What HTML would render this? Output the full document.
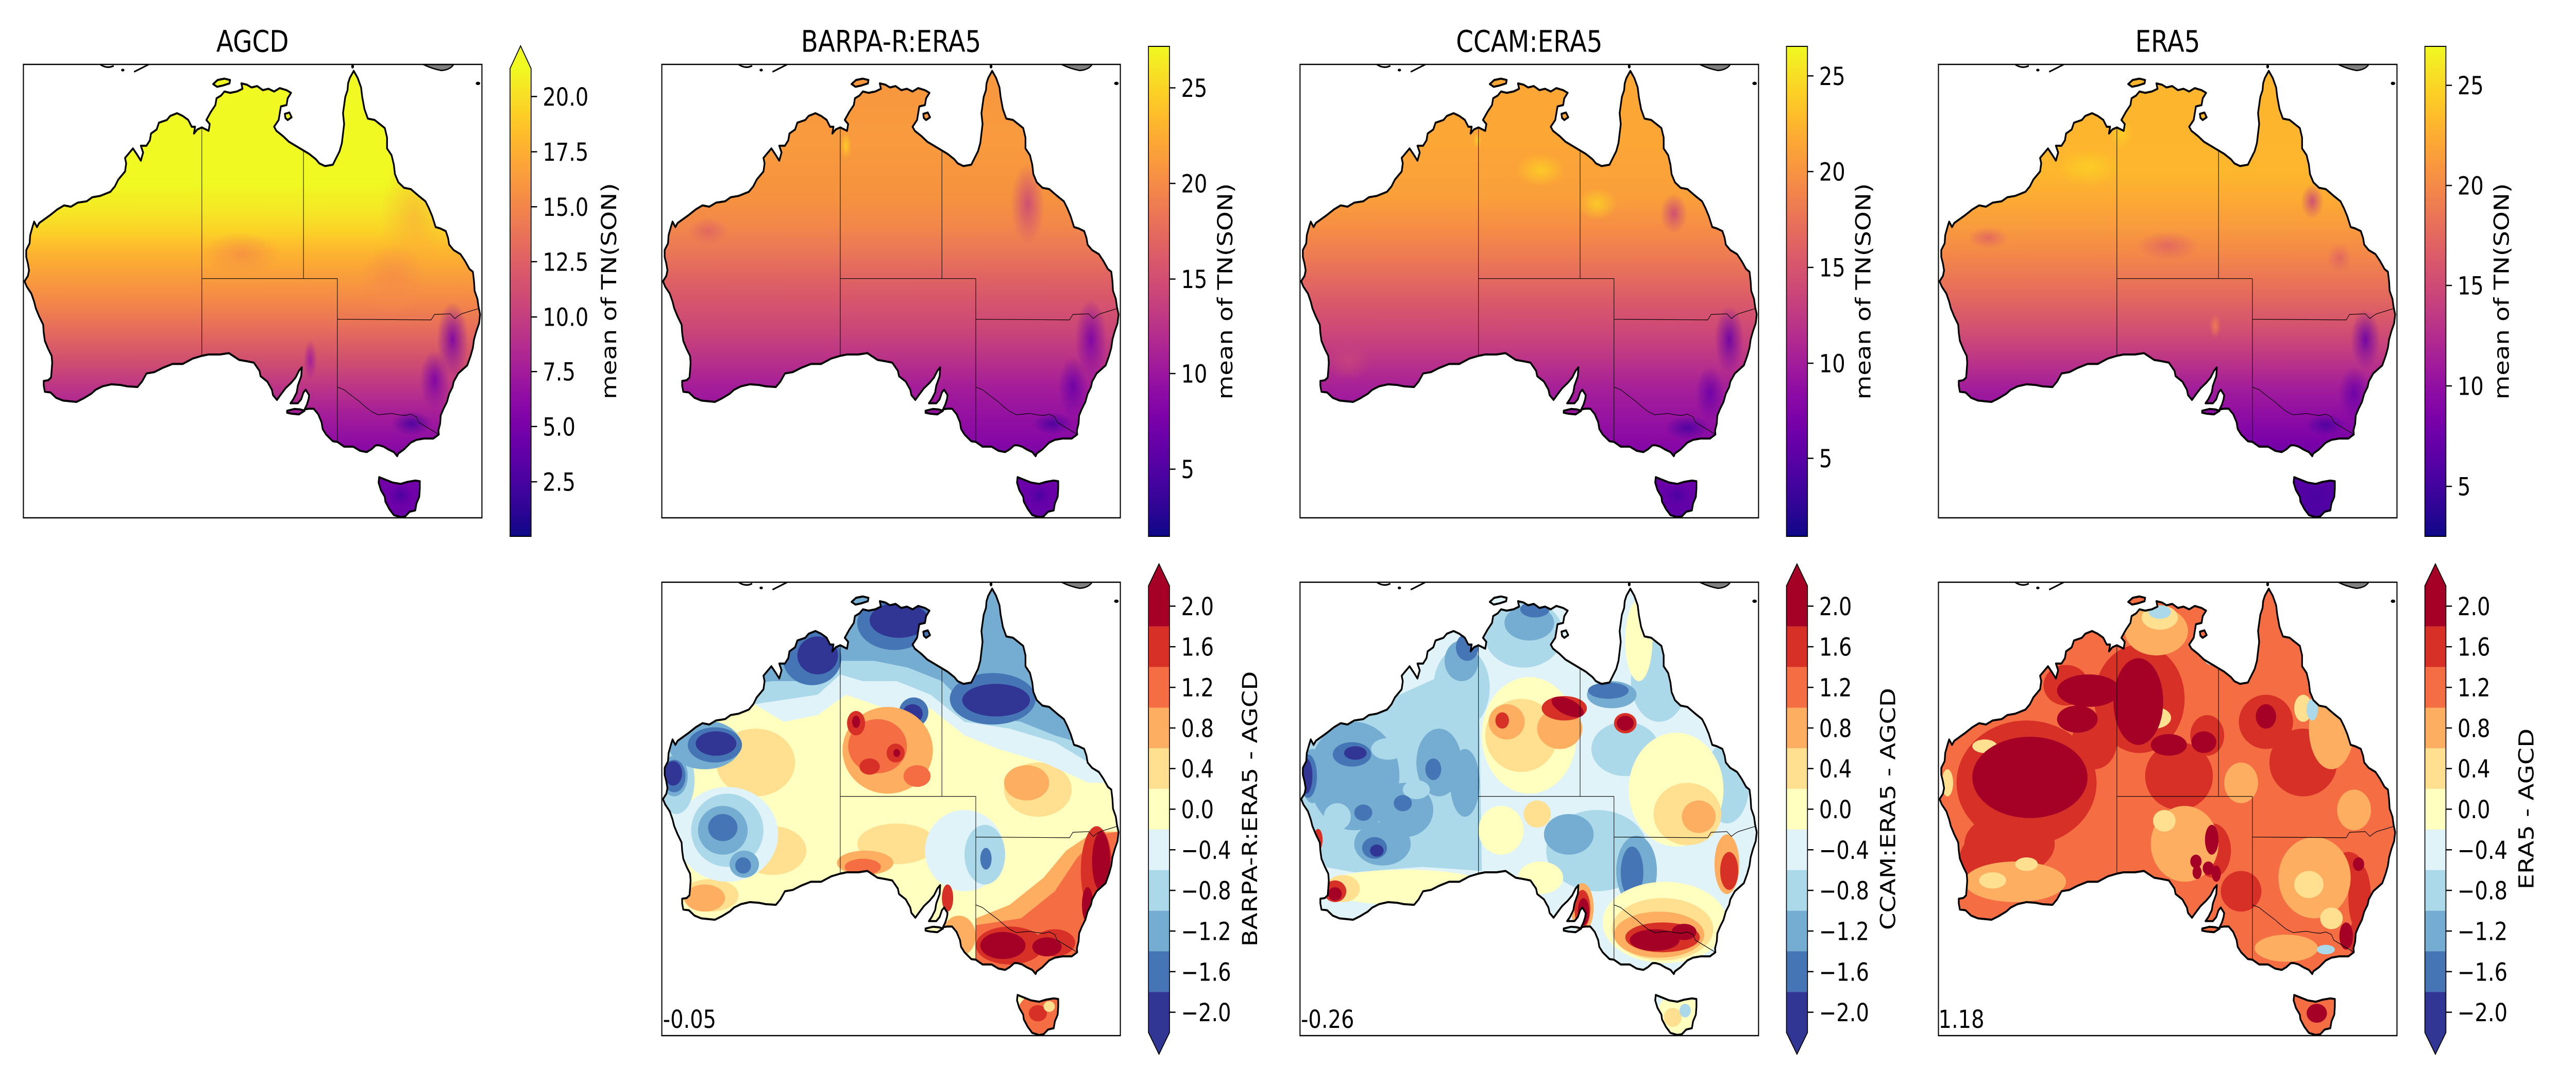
<!DOCTYPE html>
<html><head><meta charset="utf-8"><style>
html,body{margin:0;padding:0;background:#fff;width:100vw;height:100vh;overflow:hidden;}
svg.main{display:block;width:100vw;height:100vh;}
text{font-family:"DejaVu Sans","Liberation Sans",sans-serif;fill:#000;}
</style></head><body>
<svg class="main" viewBox="0 0 6000 2100" preserveAspectRatio="none" xmlns="http://www.w3.org/2000/svg">
<defs>
<path id="coastp" d="M142.45 10.68 L142.8 11.2 L143.1 11.9 L143.2 12.6 L143.4 13.5 L143.7 14.2 L144.3 14.3 L144.6 14.5 L145.2 14.9 L145.4 15.6 L145.4 16.4 L145.8 16.9 L146 17.6 L146.1 18.3 L146.4 18.9 L146.9 19.3 L147.5 19.4 L148.2 19.9 L148.8 20.3 L149.1 20.8 L149.4 21.4 L149.7 22.2 L150.1 22.3 L150.6 22.5 L150.8 23 L150.9 23.5 L151.3 23.9 L151.9 24.2 L152.3 24.7 L152.7 25.3 L153 25.5 L153.1 26.2 L153.15 26.9 L153.4 27.5 L153.5 28.1 L153.64 28.64 L153.55 29.3 L153.3 29.9 L153.1 30.5 L153 31.1 L152.8 31.7 L152.5 32.4 L152.1 32.7 L151.7 33 L151.3 33.6 L151.2 34 L150.9 34.5 L150.7 35.1 L150.4 35.6 L150.15 36.1 L150.1 36.7 L149.95 37.2 L149.98 37.5 L149.5 37.8 L148.7 37.8 L148 37.9 L147.5 38.1 L146.9 38.6 L146.4 38.9 L146.3 39.1 L146 38.8 L145.5 38.6 L145.1 38.4 L144.7 38.3 L144.4 38.3 L144 38.6 L143.6 38.8 L143 38.7 L142.4 38.4 L141.6 38.4 L141 38.05 L140.6 38 L140 37.5 L139.7 37.1 L139.6 36.6 L139.3 36 L138.9 35.6 L138.5 35.6 L138.1 35.65 L138.3 35.3 L138.45 34.9 L138.5 34.6 L138.2 34.2 L138 34.4 L137.8 34.9 L137.5 35.2 L136.85 35.2 L137.1 34.9 L137.4 34.4 L137.5 33.9 L137.8 33.2 L137.85 32.55 L137.6 32.8 L137.3 33.3 L136.9 33.7 L136.4 34.1 L135.95 34.6 L135.65 34.95 L135.3 34.6 L135.2 34.2 L134.8 33.6 L134.2 33.2 L134.1 32.8 L133.6 32.2 L133 32.1 L132.3 32 L131.4 31.5 L130.6 31.6 L129.6 31.6 L129 31.7 L128.2 31.9 L127.3 32.3 L126.4 32.3 L125.5 32.6 L124.8 32.9 L124.1 33 L123.7 33.6 L123.3 34 L122.4 33.95 L121.8 33.85 L121 33.8 L120.2 33.95 L119.6 34.2 L119.2 34.5 L118.5 34.85 L117.9 35.1 L117.3 35.05 L116.7 35 L116.1 34.8 L115.6 34.4 L115.1 34.35 L115 33.9 L115 33.55 L115.4 33.5 L115.65 33.3 L115.7 32.8 L115.75 32.2 L115.7 31.7 L115.4 31.2 L115.1 30.6 L115 30 L114.95 29.4 L114.6 28.8 L114.3 28.2 L114.15 27.7 L113.9 27.1 L113.5 26.6 L113.3 26.2 L113.6 25.8 L113.7 25.4 L113.6 24.9 L113.45 24.4 L113.45 23.9 L113.75 23.4 L113.8 22.8 L114 22.2 L114.15 21.8 L114.4 22.2 L114.6 21.9 L115.1 21.6 L115.6 21.3 L116.2 20.9 L116.8 20.6 L117.4 20.7 L118 20.4 L118.8 20.3 L119.3 20 L120 19.9 L120.9 19.6 L121.3 19.2 L121.6 18.7 L122.2 18.1 L122.3 17.5 L122.2 17.1 L122.5 16.8 L122.9 16.4 L123.3 16.9 L123.6 17.3 L123.8 16.7 L123.6 16.2 L124.1 16.2 L124.4 15.8 L124.5 15.3 L125 15 L125.2 14.5 L125.9 14.3 L126.2 14 L126.8 13.8 L127.3 14 L127.8 14.3 L128.1 14.8 L128.4 14.8 L128.3 15.3 L128.6 15 L129 14.85 L129.6 15.1 L129.7 14.6 L129.4 14.3 L129.8 13.7 L130.2 13.2 L130.3 12.7 L130.7 12.5 L131 12.2 L131.5 12.3 L132.1 12.2 L132.6 12 L132.5 11.6 L133 11.7 L133.4 11.9 L133.9 11.8 L134.4 12.1 L134.9 12 L135.4 12.2 L135.9 11.95 L136.5 12.1 L136.9 12.3 L136.6 12.7 L136.5 13.2 L136 13.3 L135.9 13.8 L135.8 14.3 L135.4 14.8 L135.6 15.1 L136.2 15.5 L136.7 15.9 L137.3 16.2 L137.9 16.5 L138.5 16.8 L139.1 17.2 L139.4 17.5 L139.9 17.7 L140.6 17.6 L140.9 17.1 L141.2 16.6 L141.4 16 L141.5 15.3 L141.6 14.6 L141.5 13.8 L141.6 13.2 L141.7 12.6 L141.9 12.1 L141.95 11.6 L142.1 11.2 L142.3 10.9 Z
M144.7 40.65 L145.3 40.85 L145.9 41.05 L146.6 41.15 L147.2 41 L147.9 40.9 L148.3 40.95 L148.3 41.5 L148.25 42.1 L148 42.6 L147.9 43.1 L147.4 43.2 L147 43.55 L146.6 43.6 L146 43.45 L145.6 43 L145.25 42.45 L145.2 42.1 L144.85 41.6 L144.65 41.05 Z
M136.55 35.75 L137.2 35.62 L137.7 35.65 L138.1 35.75 L137.6 36.02 L136.95 35.97 L136.55 35.9 Z
M130 11.65 L130.4 11.35 L131 11.25 L131.5 11.35 L131.45 11.6 L130.9 11.75 L130.35 11.85 Z
M136.35 13.85 L136.75 13.75 L136.95 14.1 L136.6 14.3 L136.4 14.15 Z"/>
<clipPath id="land" clipPathUnits="userSpaceOnUse"><use href="#coastp"/></clipPath>
<path id="bord" d="M129 14.85 L129 31.7 M129 26 L141 26 M138 16.6 L138 26 M141 26 L141 38.05 M141 29 L149.3 29.05 L149.6 28.65 L151 28.6 L151.4 28.95 L151.7 28.75 L152 28.6 L153.55 28.2 M141 34 L141.6 34.2 L142.2 34.6 L142.6 34.85 L143 35.1 L143.4 35.4 L144 35.8 L144.6 36.05 L145.2 36 L145.8 35.95 L146.4 36.05 L147 36.1 L147.5 36 L148 36.2 L148.2 36.6 L149.98 37.5"/>
<g id="isl">
<path d="M120 10.2 Q120.6 10.55 121.2 10.3" fill="none" stroke="#000" stroke-width="0.12"/>
<ellipse cx="122" cy="10.62" rx="0.15" ry="0.1" fill="#000"/>
<path d="M123 10.75 Q123.6 10.5 124.3 10.2" fill="none" stroke="#000" stroke-width="0.12"/>
<ellipse cx="142.35" cy="10.35" rx="0.12" ry="0.15" fill="#000"/>
<path d="M148.6 10.2 L151.3 10.2 Q151 10.6 150.2 10.65 Q149.3 10.5 148.6 10.2 Z" fill="#808080" stroke="#000" stroke-width="0.1"/>
<ellipse cx="153.45" cy="11.6" rx="0.2" ry="0.12" fill="#000"/>
</g>
<linearGradient id="pl" x1="0" y1="1" x2="0" y2="0">
<stop offset="0" stop-color="#0d0887"/><stop offset=".05" stop-color="#2a0593"/><stop offset=".1" stop-color="#41049d"/><stop offset=".15" stop-color="#5601a4"/><stop offset=".2" stop-color="#6a00a8"/><stop offset=".25" stop-color="#7e03a8"/><stop offset=".3" stop-color="#8f0da4"/><stop offset=".35" stop-color="#a11b9b"/><stop offset=".4" stop-color="#b12a90"/><stop offset=".45" stop-color="#bf3984"/><stop offset=".5" stop-color="#cc4778"/><stop offset=".55" stop-color="#d6556d"/><stop offset=".6" stop-color="#e16462"/><stop offset=".65" stop-color="#ea7457"/><stop offset=".7" stop-color="#f2844b"/><stop offset=".75" stop-color="#f89540"/><stop offset=".8" stop-color="#fca636"/><stop offset=".85" stop-color="#feb92c"/><stop offset=".9" stop-color="#fcce25"/><stop offset=".95" stop-color="#f7e225"/><stop offset="1" stop-color="#f0f921"/>
</linearGradient>
<linearGradient id="la" gradientUnits="userSpaceOnUse" x1="0" y1="10" x2="0" y2="44">
<stop offset="0" stop-color="#f0f921"/><stop offset=".265" stop-color="#f0f921"/><stop offset=".324" stop-color="#f5e726"/><stop offset=".368" stop-color="#fbd227"/><stop offset=".412" stop-color="#fdb52e"/><stop offset=".471" stop-color="#f99b3d"/><stop offset=".529" stop-color="#f2844b"/><stop offset=".588" stop-color="#e4695e"/><stop offset=".647" stop-color="#d0506f"/><stop offset=".706" stop-color="#bc3587"/><stop offset=".765" stop-color="#a41d99"/><stop offset=".824" stop-color="#8e0ca4"/><stop offset=".912" stop-color="#7201a8"/><stop offset="1" stop-color="#6a00a8"/>
</linearGradient>
<linearGradient id="lb" gradientUnits="userSpaceOnUse" x1="0" y1="10" x2="0" y2="44">
<stop offset="0" stop-color="#f7973f"/><stop offset=".176" stop-color="#f89a3d"/><stop offset=".294" stop-color="#f6923f"/><stop offset=".353" stop-color="#f2884a"/><stop offset=".412" stop-color="#ea7756"/><stop offset=".471" stop-color="#df6263"/><stop offset=".529" stop-color="#d5536e"/><stop offset=".588" stop-color="#c84479"/><stop offset=".647" stop-color="#b83189"/><stop offset=".706" stop-color="#a41d99"/><stop offset=".765" stop-color="#9511a1"/><stop offset=".824" stop-color="#8507a6"/><stop offset=".912" stop-color="#6c00a8"/><stop offset="1" stop-color="#6300a7"/>
</linearGradient>
<linearGradient id="lc" gradientUnits="userSpaceOnUse" x1="0" y1="10" x2="0" y2="44">
<stop offset="0" stop-color="#fca636"/><stop offset=".176" stop-color="#fca636"/><stop offset=".294" stop-color="#fa9f3a"/><stop offset=".353" stop-color="#f68f44"/><stop offset=".412" stop-color="#ef7e50"/><stop offset=".471" stop-color="#e46a5f"/><stop offset=".529" stop-color="#d8576b"/><stop offset=".588" stop-color="#cc4778"/><stop offset=".647" stop-color="#bb3488"/><stop offset=".706" stop-color="#a62098"/><stop offset=".765" stop-color="#9814a0"/><stop offset=".824" stop-color="#8a09a5"/><stop offset=".912" stop-color="#6a00a8"/><stop offset="1" stop-color="#5c01a6"/>
</linearGradient>
<linearGradient id="le" gradientUnits="userSpaceOnUse" x1="0" y1="10" x2="0" y2="44">
<stop offset="0" stop-color="#fdb52e"/><stop offset=".176" stop-color="#fdb52e"/><stop offset=".235" stop-color="#fdb72c"/><stop offset=".294" stop-color="#fcab33"/><stop offset=".353" stop-color="#f99c3d"/><stop offset=".412" stop-color="#f48a47"/><stop offset=".471" stop-color="#eb7655"/><stop offset=".529" stop-color="#df6263"/><stop offset=".588" stop-color="#d04d73"/><stop offset=".647" stop-color="#bc3587"/><stop offset=".706" stop-color="#a31e9a"/><stop offset=".765" stop-color="#8f0da4"/><stop offset=".824" stop-color="#7a02a8"/><stop offset=".912" stop-color="#5601a4"/><stop offset="1" stop-color="#4c02a1"/>
</linearGradient>
<radialGradient id="r_y"><stop offset="0" stop-color="#fcce25" stop-opacity=".9"/><stop offset="1" stop-color="#fcce25" stop-opacity="0"/></radialGradient>
<radialGradient id="r_o"><stop offset="0" stop-color="#f9a83a" stop-opacity=".6"/><stop offset="1" stop-color="#f9a83a" stop-opacity="0"/></radialGradient>
<radialGradient id="r_s"><stop offset="0" stop-color="#e06363" stop-opacity=".85"/><stop offset="1" stop-color="#e06363" stop-opacity="0"/></radialGradient>
<radialGradient id="r_p"><stop offset="0" stop-color="#c8447b" stop-opacity=".85"/><stop offset="1" stop-color="#c8447b" stop-opacity="0"/></radialGradient>
<radialGradient id="r_m"><stop offset="0" stop-color="#9c179e" stop-opacity=".85"/><stop offset="1" stop-color="#9c179e" stop-opacity="0"/></radialGradient>
<radialGradient id="r_v"><stop offset="0" stop-color="#7a02a8" stop-opacity=".9"/><stop offset="1" stop-color="#7a02a8" stop-opacity="0"/></radialGradient>
<radialGradient id="r_u"><stop offset="0" stop-color="#6a00a8" stop-opacity=".9"/><stop offset="1" stop-color="#6a00a8" stop-opacity="0"/></radialGradient>
<radialGradient id="r_d"><stop offset="0" stop-color="#4a02a0" stop-opacity=".9"/><stop offset="1" stop-color="#4a02a0" stop-opacity="0"/></radialGradient>
<radialGradient id="r_a"><stop offset="0" stop-color="#f48a47" stop-opacity=".75"/><stop offset="1" stop-color="#f48a47" stop-opacity="0"/></radialGradient>
</defs>

<text x="588.25" y="100.5" font-size="58" text-anchor="middle">AGCD</text>
<text x="2075.5" y="100.5" font-size="58" text-anchor="middle">BARPA-R:ERA5</text>
<text x="3562" y="100.5" font-size="58" text-anchor="middle">CCAM:ERA5</text>
<text x="5049" y="100.5" font-size="58" text-anchor="middle">ERA5</text>

<svg x="54.5" y="125" width="1068" height="880" viewBox="113.2 10.2 40.6 33.45" preserveAspectRatio="none" overflow="hidden">
<g clip-path="url(#land)">
<rect x="112" y="9" width="43" height="36" fill="url(#la)"/>
<ellipse cx="147.8" cy="21.5" rx="3" ry="5" fill="url(#r_o)"/>
<ellipse cx="146" cy="26" rx="3" ry="2.5" fill="url(#r_a)"/>
<ellipse cx="132.5" cy="24.2" rx="3.5" ry="1.6" fill="url(#r_a)"/>
<ellipse cx="151.2" cy="30.5" rx="1.4" ry="2.8" fill="url(#r_v)"/>
<ellipse cx="149.6" cy="33.5" rx="1.3" ry="2.2" fill="url(#r_v)"/>
<ellipse cx="147.6" cy="36.7" rx="1.8" ry="0.9" fill="url(#r_d)"/>
<ellipse cx="138.6" cy="32" rx="0.6" ry="1.5" fill="url(#r_m)"/>
<ellipse cx="146.6" cy="42" rx="1" ry="0.8" fill="url(#r_d)"/>
</g>
<use href="#coastp" fill="none" stroke="#000" stroke-width="0.15" stroke-linejoin="round"/>
<use href="#bord" fill="none" stroke="#000" stroke-width="0.045"/>
<use href="#isl"/>
</svg>
<rect x="54.5" y="125" width="1068" height="880" fill="none" stroke="#000" stroke-width="2.5"/>

<svg x="1541.5" y="125" width="1068" height="880" viewBox="113.2 10.2 40.6 33.45" preserveAspectRatio="none" overflow="hidden">
<g clip-path="url(#land)">
<rect x="112" y="9" width="43" height="36" fill="url(#lb)"/>
<ellipse cx="117.3" cy="22.5" rx="1.8" ry="1" fill="url(#r_s)"/>
<ellipse cx="145.6" cy="20.5" rx="1.5" ry="3" fill="url(#r_p)"/>
<ellipse cx="151.2" cy="30.5" rx="1.4" ry="3" fill="url(#r_v)"/>
<ellipse cx="149.6" cy="34" rx="1.3" ry="2.2" fill="url(#r_u)"/>
<ellipse cx="147.8" cy="36.7" rx="1.8" ry="0.8" fill="url(#r_d)"/>
<ellipse cx="146.6" cy="42" rx="1" ry="0.8" fill="url(#r_d)"/>
<ellipse cx="129.5" cy="16.2" rx="0.5" ry="1" fill="url(#r_y)"/>
</g>
<use href="#coastp" fill="none" stroke="#000" stroke-width="0.15" stroke-linejoin="round"/>
<use href="#bord" fill="none" stroke="#000" stroke-width="0.045"/>
<use href="#isl"/>
</svg>
<rect x="1541.5" y="125" width="1068" height="880" fill="none" stroke="#000" stroke-width="2.5"/>

<svg x="3028" y="125" width="1068" height="880" viewBox="113.2 10.2 40.6 33.45" preserveAspectRatio="none" overflow="hidden">
<g clip-path="url(#land)">
<rect x="112" y="9" width="43" height="36" fill="url(#lc)"/>
<ellipse cx="134.5" cy="18" rx="2.2" ry="1.2" fill="url(#r_y)"/>
<ellipse cx="139.5" cy="20.5" rx="1.8" ry="1.2" fill="url(#r_y)"/>
<ellipse cx="128.9" cy="15.8" rx="0.4" ry="0.6" fill="url(#r_y)"/>
<ellipse cx="146.3" cy="21.2" rx="1.2" ry="1.5" fill="url(#r_p)"/>
<ellipse cx="151.2" cy="30.5" rx="1.3" ry="2.5" fill="url(#r_u)"/>
<ellipse cx="149.5" cy="34.5" rx="1.3" ry="2" fill="url(#r_u)"/>
<ellipse cx="147.5" cy="37" rx="2" ry="0.9" fill="url(#r_d)"/>
<ellipse cx="146.6" cy="42" rx="1" ry="0.8" fill="url(#r_d)"/>
<ellipse cx="117.5" cy="32" rx="2" ry="1.5" fill="url(#r_p)"/>
</g>
<use href="#coastp" fill="none" stroke="#000" stroke-width="0.15" stroke-linejoin="round"/>
<use href="#bord" fill="none" stroke="#000" stroke-width="0.045"/>
<use href="#isl"/>
</svg>
<rect x="3028" y="125" width="1068" height="880" fill="none" stroke="#000" stroke-width="2.5"/>

<svg x="4515" y="125" width="1068" height="880" viewBox="113.2 10.2 40.6 33.45" preserveAspectRatio="none" overflow="hidden">
<g clip-path="url(#land)">
<rect x="112" y="9" width="43" height="36" fill="url(#le)"/>
<ellipse cx="126.5" cy="17.8" rx="2.8" ry="1.4" fill="url(#r_y)"/>
<ellipse cx="129.4" cy="15.3" rx="1" ry="1.2" fill="url(#r_y)"/>
<ellipse cx="133.5" cy="23.6" rx="2.8" ry="1.1" fill="url(#r_s)"/>
<ellipse cx="146.3" cy="20.3" rx="1" ry="1.3" fill="url(#r_p)"/>
<ellipse cx="148.7" cy="24.5" rx="1.1" ry="1.1" fill="url(#r_s)"/>
<ellipse cx="137.7" cy="29.5" rx="0.5" ry="0.9" fill="url(#r_a)"/>
<ellipse cx="151" cy="30.5" rx="1.3" ry="2.2" fill="url(#r_u)"/>
<ellipse cx="150" cy="34.5" rx="1.4" ry="2" fill="url(#r_u)"/>
<ellipse cx="147.5" cy="36.8" rx="1.8" ry="0.8" fill="url(#r_d)"/>
<ellipse cx="146.6" cy="42" rx="1" ry="0.8" fill="url(#r_d)"/>
<ellipse cx="117.6" cy="23" rx="1.8" ry="0.8" fill="url(#r_s)"/>
</g>
<use href="#coastp" fill="none" stroke="#000" stroke-width="0.15" stroke-linejoin="round"/>
<use href="#bord" fill="none" stroke="#000" stroke-width="0.045"/>
<use href="#isl"/>
</svg>
<rect x="4515" y="125" width="1068" height="880" fill="none" stroke="#000" stroke-width="2.5"/>

<svg x="1541.5" y="1130" width="1068" height="880" viewBox="113.2 10.2 40.6 33.45" preserveAspectRatio="none" overflow="hidden">
<g clip-path="url(#land)">
<rect x="112" y="9" width="43" height="36" fill="#ffffbf"/>
<g fill="#fee090">
<ellipse cx="121.5" cy="23.5" rx="3.5" ry="2.5"/><ellipse cx="123" cy="30" rx="3" ry="1.8"/><ellipse cx="117.5" cy="33.3" rx="2.5" ry="1.2"/><ellipse cx="146.5" cy="25.5" rx="3" ry="2"/><ellipse cx="134" cy="29.5" rx="3.5" ry="1.5"/>
</g>
<g fill="#e0f3f8">
<path d="M113 17 L120 18.5 L124 20.5 L127 20 L129.5 18.5 L133 19.5 L137 19.5 L140 21.5 L143 22.5 L147 23.5 L151 25 L154 25 L154 10 L113 10 Z"/>
<ellipse cx="119" cy="28.8" rx="4.5" ry="3.5"/><ellipse cx="140" cy="30" rx="3.5" ry="3"/><ellipse cx="113.8" cy="25.5" rx="1.5" ry="4"/>
</g>
<g fill="#abd9e9">
<path d="M113 19 L119 19.5 L123 19 L127 18.5 L129 17 L131 17.5 L134 17.5 L137 18.5 L140 20.5 L144 21 L148 22 L151 23.5 L154 24 L154 10 L113 10 Z"/>
<ellipse cx="119" cy="28.5" rx="3.2" ry="2.7"/><ellipse cx="141.8" cy="30.3" rx="1.8" ry="2.2"/><ellipse cx="114.5" cy="24.8" rx="1.6" ry="2.5"/>
</g>
<g fill="#74add1">
<path d="M118 18 L123 17.5 L127 17.5 L129 16 L132 16 L135 16.5 L138 17.5 L141 20 L145 20.5 L148 21.5 L150 22 L147 17 L146 13 L143 11 L140 10 L120 10 L118 13 Z"/>
<ellipse cx="118.6" cy="28.5" rx="2.2" ry="1.8"/><ellipse cx="120.5" cy="31" rx="1.3" ry="1"/><ellipse cx="117" cy="22.2" rx="3.2" ry="1.8"/><ellipse cx="114.3" cy="24.5" rx="1.2" ry="1.5"/>
</g>
<g fill="#4575b4">
<ellipse cx="133.8" cy="13.2" rx="3.3" ry="2"/><ellipse cx="126.5" cy="15.8" rx="2.6" ry="2"/><ellipse cx="142.5" cy="18.8" rx="3.8" ry="1.9"/><ellipse cx="117.9" cy="22.2" rx="2.4" ry="1.3"/><ellipse cx="114.3" cy="24.5" rx="1" ry="1.2"/><ellipse cx="135.5" cy="19.8" rx="1.3" ry="1.1"/><ellipse cx="118.6" cy="28.3" rx="1.3" ry="1"/><ellipse cx="141.9" cy="30.6" rx="0.5" ry="0.8"/><ellipse cx="120.4" cy="31.1" rx="0.7" ry="0.6"/>
</g>
<g fill="#313695">
<ellipse cx="134.2" cy="13" rx="2.6" ry="1.3"/><ellipse cx="127" cy="15.6" rx="1.8" ry="1.4"/><ellipse cx="142.8" cy="18.9" rx="3" ry="1.2"/><ellipse cx="118" cy="22.1" rx="1.8" ry="0.9"/><ellipse cx="114.2" cy="24.3" rx="0.8" ry="0.9"/><ellipse cx="135.4" cy="19.9" rx="0.9" ry="0.7"/>
</g>
<g fill="#fdae61">
<ellipse cx="133.2" cy="22.6" rx="4" ry="3.2"/><ellipse cx="117" cy="33.5" rx="1.8" ry="1"/><ellipse cx="131.2" cy="30.9" rx="2.5" ry="0.9"/>
<path d="M141 35 L144 34 L147 32 L149 30 L151.5 28.6 L153.8 28.6 L153.8 39 L141 39 Z"/>
<ellipse cx="145.5" cy="25" rx="2" ry="1.3"/><ellipse cx="139.5" cy="36.3" rx="1.5" ry="1.5"/>
</g>
<g fill="#f46d43">
<ellipse cx="132.3" cy="22.3" rx="2.6" ry="2"/><ellipse cx="131" cy="31.2" rx="1.6" ry="0.6"/>
<path d="M141 35.5 L145 35 L148 33 L150 30.5 L152 28.8 L153.8 28.6 L153.8 39 L141 39 Z"/>
<ellipse cx="135.8" cy="24.5" rx="1.2" ry="0.8"/><ellipse cx="146.7" cy="42" rx="2" ry="1.5"/>
</g>
<g fill="#d73027">
<ellipse cx="130.4" cy="20.6" rx="0.8" ry="0.9"/><ellipse cx="133.9" cy="22.8" rx="0.8" ry="0.7"/><ellipse cx="131.6" cy="23.8" rx="0.9" ry="0.6"/><ellipse cx="144" cy="37" rx="3" ry="1.4"/><ellipse cx="151.7" cy="31.5" rx="1.4" ry="3.3"/><ellipse cx="148" cy="36.8" rx="1.8" ry="1"/><ellipse cx="138.5" cy="33.5" rx="0.5" ry="1"/><ellipse cx="146.5" cy="42" rx="0.8" ry="0.6"/>
</g>
<g fill="#a50026">
<ellipse cx="143.4" cy="37" rx="2" ry="1"/><ellipse cx="147.3" cy="37.1" rx="1.3" ry="0.7"/><ellipse cx="152.1" cy="30.8" rx="0.8" ry="2.2"/><ellipse cx="150.9" cy="34" rx="0.5" ry="1.3"/><ellipse cx="130.4" cy="20.5" rx="0.35" ry="0.45"/><ellipse cx="134" cy="22.8" rx="0.3" ry="0.3"/>
</g>
<ellipse cx="147.5" cy="41.5" rx="0.5" ry="0.4" fill="#fee090"/>
</g>
<use href="#coastp" fill="none" stroke="#000" stroke-width="0.15" stroke-linejoin="round"/>
<use href="#bord" fill="none" stroke="#000" stroke-width="0.045"/>
<use href="#isl"/>
</svg>
<rect x="1541.5" y="1130" width="1068" height="880" fill="none" stroke="#000" stroke-width="2.5"/>

<svg x="3028" y="1130" width="1068" height="880" viewBox="113.2 10.2 40.6 33.45" preserveAspectRatio="none" overflow="hidden">
<g clip-path="url(#land)">
<rect x="112" y="9" width="43" height="36" fill="#e0f3f8"/>
<g fill="#abd9e9">
<path d="M113 18 L118 19 L122 18.5 L126 17 L129 16 L129.3 31.5 L124 31.2 L118 31.6 L114 31 L113 28 Z"/>
<ellipse cx="139.5" cy="30" rx="4.5" ry="3"/><ellipse cx="133" cy="14" rx="3.5" ry="2.5"/><ellipse cx="145" cy="17.5" rx="2.5" ry="3"/><ellipse cx="151" cy="25" rx="2" ry="3"/><ellipse cx="142" cy="22.5" rx="3" ry="2"/><ellipse cx="127.5" cy="18" rx="2.5" ry="3"/>
</g>
<g fill="#74add1">
<ellipse cx="118" cy="24.5" rx="4" ry="4"/><ellipse cx="122.5" cy="27" rx="2.5" ry="2"/><ellipse cx="125.5" cy="23.5" rx="2" ry="2.5"/><ellipse cx="120.5" cy="29.5" rx="2.5" ry="1.6"/><ellipse cx="127.8" cy="25" rx="1.3" ry="2.5"/><ellipse cx="133.5" cy="13.2" rx="2.2" ry="1.3"/><ellipse cx="143" cy="31.5" rx="1.8" ry="2.6"/><ellipse cx="137" cy="28.8" rx="2.2" ry="1.5"/><ellipse cx="140.8" cy="18.5" rx="2.2" ry="1"/><ellipse cx="127.5" cy="16" rx="1.5" ry="1.5"/><ellipse cx="114.3" cy="24.5" rx="1" ry="2"/>
</g>
<g fill="#abd9e9">
<ellipse cx="121" cy="22.5" rx="1.5" ry="0.8"/><ellipse cx="123.5" cy="25.5" rx="1.2" ry="0.7"/><ellipse cx="116.5" cy="27.5" rx="1.2" ry="1"/>
</g>
<g fill="#4575b4">
<ellipse cx="117.8" cy="22.9" rx="1.7" ry="0.9"/><ellipse cx="119.8" cy="29.8" rx="1.1" ry="0.8"/><ellipse cx="113.9" cy="24.5" rx="0.8" ry="1.6"/><ellipse cx="142.6" cy="31.6" rx="1" ry="1.9"/><ellipse cx="140.5" cy="18.2" rx="1.8" ry="0.6"/><ellipse cx="128" cy="15" rx="1" ry="1"/><ellipse cx="134" cy="12.2" rx="1.3" ry="0.6"/><ellipse cx="118.8" cy="27.2" rx="0.8" ry="0.6"/><ellipse cx="122.3" cy="26.5" rx="0.8" ry="0.6"/><ellipse cx="125" cy="24" rx="0.7" ry="0.8"/>
</g>
<g fill="#313695">
<ellipse cx="113.75" cy="24.5" rx="0.55" ry="1.3"/><ellipse cx="118.1" cy="22.8" rx="1" ry="0.5"/><ellipse cx="120" cy="30" rx="0.6" ry="0.45"/>
</g>
<g fill="#ffffbf">
<ellipse cx="122.5" cy="32.7" rx="7.5" ry="1.3"/><ellipse cx="133.5" cy="21.5" rx="4.2" ry="4.3"/><ellipse cx="146.5" cy="25.5" rx="4.2" ry="4.2"/><ellipse cx="145.5" cy="35.3" rx="5.5" ry="3"/><ellipse cx="143.2" cy="14.5" rx="1.2" ry="3"/><ellipse cx="134.5" cy="32" rx="2" ry="1.2"/><ellipse cx="131" cy="28.5" rx="2" ry="1.8"/><ellipse cx="146.7" cy="42" rx="1.8" ry="1.5"/>
</g>
<g fill="#fee090">
<ellipse cx="132.8" cy="21.5" rx="3.2" ry="2.7"/><ellipse cx="147.5" cy="27.3" rx="3" ry="2.3"/><ellipse cx="145.3" cy="35.8" rx="4.5" ry="2.3"/><ellipse cx="134.2" cy="27.3" rx="1.2" ry="1"/><ellipse cx="117" cy="32.8" rx="1.5" ry="1"/><ellipse cx="146.2" cy="42.3" rx="0.8" ry="0.7"/>
</g>
<g fill="#fdae61">
<ellipse cx="131.5" cy="20.5" rx="1.6" ry="1.3"/><ellipse cx="136.2" cy="21" rx="2" ry="1.5"/><ellipse cx="148.5" cy="27.5" rx="1.5" ry="1.2"/><ellipse cx="145" cy="36.2" rx="4" ry="1.7"/><ellipse cx="151" cy="31" rx="1.1" ry="2.2"/><ellipse cx="138.2" cy="34.2" rx="1" ry="1.8"/>
</g>
<g fill="#d73027">
<ellipse cx="131.1" cy="20.4" rx="0.6" ry="0.6"/><ellipse cx="136.6" cy="19.5" rx="2" ry="0.9"/><ellipse cx="142" cy="20.6" rx="1" ry="0.75"/><ellipse cx="138.2" cy="34.3" rx="0.7" ry="1.4"/><ellipse cx="116.3" cy="33" rx="1" ry="0.8"/><ellipse cx="114.8" cy="29.2" rx="0.4" ry="0.8"/><ellipse cx="145.3" cy="36.4" rx="3.3" ry="1.1"/><ellipse cx="151.2" cy="31.5" rx="0.8" ry="1.4"/>
</g>
<g fill="#a50026">
<ellipse cx="136.9" cy="19.4" rx="1.5" ry="0.6" transform="rotate(20 136.9 19.4)"/><ellipse cx="142" cy="20.6" rx="0.75" ry="0.55"/><ellipse cx="138.3" cy="34.5" rx="0.5" ry="1"/><ellipse cx="144.6" cy="36.6" rx="2.2" ry="0.8"/><ellipse cx="147.2" cy="36" rx="1.1" ry="0.6"/><ellipse cx="116.3" cy="33.2" rx="0.6" ry="0.5"/>
</g>
<ellipse cx="147.3" cy="41.8" rx="0.5" ry="0.5" fill="#abd9e9"/>
</g>
<use href="#coastp" fill="none" stroke="#000" stroke-width="0.15" stroke-linejoin="round"/>
<use href="#bord" fill="none" stroke="#000" stroke-width="0.045"/>
<use href="#isl"/>
</svg>
<rect x="3028" y="1130" width="1068" height="880" fill="none" stroke="#000" stroke-width="2.5"/>

<svg x="4515" y="1130" width="1068" height="880" viewBox="113.2 10.2 40.6 33.45" preserveAspectRatio="none" overflow="hidden">
<g clip-path="url(#land)">
<rect x="112" y="9" width="43" height="36" fill="#f46d43"/>
<g fill="#d73027">
<ellipse cx="121" cy="25" rx="6.2" ry="4.6"/><ellipse cx="131" cy="18.8" rx="4" ry="4"/><ellipse cx="142.2" cy="20.5" rx="2.4" ry="2"/><ellipse cx="137.5" cy="30" rx="1.6" ry="2"/><ellipse cx="149.5" cy="31.5" rx="1.4" ry="1.4"/><ellipse cx="124.5" cy="17.8" rx="2" ry="1.5"/><ellipse cx="150.5" cy="36.5" rx="1" ry="1.5"/>
<ellipse cx="119.5" cy="29.5" rx="4" ry="2.3"/><ellipse cx="134.5" cy="24.5" rx="3" ry="2.5"/><ellipse cx="145.5" cy="23.5" rx="3" ry="2.5"/><ellipse cx="140" cy="33" rx="1.8" ry="1.5"/><ellipse cx="150.5" cy="33.5" rx="1" ry="2.5"/><ellipse cx="137" cy="21.5" rx="1.5" ry="1.5"/><ellipse cx="127" cy="22" rx="2" ry="2"/><ellipse cx="116.5" cy="31" rx="1.5" ry="2"/>
</g>
<g fill="#fdae61">
<ellipse cx="135" cy="29.5" rx="3" ry="2.8"/><ellipse cx="146.5" cy="32" rx="3.2" ry="3"/><ellipse cx="148" cy="21" rx="2" ry="3"/><ellipse cx="132.5" cy="13.8" rx="2.8" ry="1.8"/><ellipse cx="120" cy="32.3" rx="4.5" ry="1.5"/><ellipse cx="144" cy="37.2" rx="2.8" ry="1"/><ellipse cx="140" cy="25" rx="1.5" ry="1.5"/><ellipse cx="150" cy="27" rx="1.5" ry="1.5"/>
</g>
<g fill="#fee090">
<ellipse cx="132.3" cy="20.2" rx="1.5" ry="0.8"/><ellipse cx="146" cy="32.5" rx="1.3" ry="1"/><ellipse cx="133.2" cy="27.8" rx="1" ry="0.8"/><ellipse cx="132.8" cy="12.8" rx="1.6" ry="0.9"/><ellipse cx="118" cy="32.2" rx="1.2" ry="0.6"/><ellipse cx="145.5" cy="19.5" rx="0.8" ry="1"/><ellipse cx="114" cy="25" rx="0.5" ry="1"/><ellipse cx="148" cy="35" rx="1" ry="0.8"/><ellipse cx="117.3" cy="22.3" rx="1.1" ry="0.5"/><ellipse cx="121" cy="31" rx="1" ry="0.5"/>
</g>
<g fill="#abd9e9">
<ellipse cx="132.8" cy="12.4" rx="1" ry="0.5"/><ellipse cx="137.3" cy="15.9" rx="0.5" ry="0.4"/><ellipse cx="146.3" cy="19.6" rx="0.5" ry="0.8"/><ellipse cx="147.5" cy="37.3" rx="0.8" ry="0.35"/>
</g>
<g fill="#a50026">
<ellipse cx="121.3" cy="24.6" rx="5.1" ry="3"/><ellipse cx="130.9" cy="19" rx="2.2" ry="3.2"/><ellipse cx="126.5" cy="18.2" rx="2.8" ry="1.2"/><ellipse cx="125.5" cy="20.3" rx="1.8" ry="1"/><ellipse cx="142.2" cy="20.1" rx="0.9" ry="0.9"/><ellipse cx="137.4" cy="29.2" rx="0.6" ry="1.1"/><ellipse cx="137.1" cy="31.3" rx="0.5" ry="0.5"/><ellipse cx="136" cy="30.8" rx="0.5" ry="0.5"/><ellipse cx="137.8" cy="31.7" rx="0.4" ry="0.6"/><ellipse cx="136.1" cy="31.6" rx="0.4" ry="0.5"/><ellipse cx="150.4" cy="31" rx="0.5" ry="0.5"/><ellipse cx="149.3" cy="36.3" rx="0.6" ry="1"/><ellipse cx="133.6" cy="22.2" rx="1.6" ry="0.8"/><ellipse cx="136.7" cy="22" rx="1.1" ry="0.8"/><ellipse cx="146.7" cy="42" rx="0.9" ry="0.7"/>
</g>
</g>
<use href="#coastp" fill="none" stroke="#000" stroke-width="0.15" stroke-linejoin="round"/>
<use href="#bord" fill="none" stroke="#000" stroke-width="0.045"/>
<use href="#isl"/>
</svg>
<rect x="4515" y="1130" width="1068" height="880" fill="none" stroke="#000" stroke-width="2.5"/>

<text x="1544" y="1995" font-size="48">-0.05</text>
<text x="3030" y="1995" font-size="48">-0.26</text>
<text x="4515" y="1995" font-size="48">1.18</text>

<rect x="1188" y="133" width="49" height="908" fill="url(#pl)"/>
<polygon points="1188,133 1237,133 1212.5,89" fill="#f0f921"/>
<path d="M1188 1041 L1188 133 L1212.5 89 L1237 133 L1237 1041 Z" fill="none" stroke="#000" stroke-width="2"/>
<g stroke="#000" stroke-width="2.5">
<line x1="1237" y1="187.3" x2="1251" y2="187.3"/><line x1="1237" y1="294.6" x2="1251" y2="294.6"/><line x1="1237" y1="401.3" x2="1251" y2="401.3"/><line x1="1237" y1="507.9" x2="1251" y2="507.9"/><line x1="1237" y1="615.2" x2="1251" y2="615.2"/><line x1="1237" y1="721.2" x2="1251" y2="721.2"/><line x1="1237" y1="827.8" x2="1251" y2="827.8"/><line x1="1237" y1="935.1" x2="1251" y2="935.1"/>
</g>
<g font-size="48">
<text x="1264" y="204.8">20.0</text><text x="1264" y="312.1">17.5</text><text x="1264" y="418.8">15.0</text><text x="1264" y="525.4">12.5</text><text x="1264" y="632.7">10.0</text><text x="1264" y="738.7">7.5</text><text x="1264" y="845.3">5.0</text><text x="1264" y="952.6">2.5</text>
</g>
<text transform="translate(1435,565) rotate(-90)" font-size="48" text-anchor="middle">mean of TN(SON)</text>

<rect x="2675" y="90" width="49" height="951" fill="url(#pl)" stroke="#000" stroke-width="2"/>
<g stroke="#000" stroke-width="2.5">
<line x1="2724" y1="170.5" x2="2738" y2="170.5"/><line x1="2724" y1="356" x2="2738" y2="356"/><line x1="2724" y1="541.6" x2="2738" y2="541.6"/><line x1="2724" y1="725" x2="2738" y2="725"/><line x1="2724" y1="910.6" x2="2738" y2="910.6"/>
</g>
<g font-size="48">
<text x="2751" y="188">25</text><text x="2751" y="373.5">20</text><text x="2751" y="559.1">15</text><text x="2751" y="742.5">10</text><text x="2751" y="928.1">5</text>
</g>
<text transform="translate(2870.5,565.5) rotate(-90)" font-size="48" text-anchor="middle">mean of TN(SON)</text>

<rect x="4161" y="90" width="49" height="951" fill="url(#pl)" stroke="#000" stroke-width="2"/>
<g stroke="#000" stroke-width="2.5">
<line x1="4210" y1="147.3" x2="4224" y2="147.3"/><line x1="4210" y1="333" x2="4224" y2="333"/><line x1="4210" y1="519" x2="4224" y2="519"/><line x1="4210" y1="705" x2="4224" y2="705"/><line x1="4210" y1="889.5" x2="4224" y2="889.5"/>
</g>
<g font-size="48">
<text x="4237" y="164.8">25</text><text x="4237" y="350.5">20</text><text x="4237" y="536.5">15</text><text x="4237" y="722.5">10</text><text x="4237" y="907">5</text>
</g>
<text transform="translate(4356.5,565.5) rotate(-90)" font-size="48" text-anchor="middle">mean of TN(SON)</text>

<rect x="5648" y="90" width="49" height="951" fill="url(#pl)" stroke="#000" stroke-width="2"/>
<g stroke="#000" stroke-width="2.5">
<line x1="5697" y1="165.6" x2="5711" y2="165.6"/><line x1="5697" y1="360" x2="5711" y2="360"/><line x1="5697" y1="554" x2="5711" y2="554"/><line x1="5697" y1="749" x2="5711" y2="749"/><line x1="5697" y1="944" x2="5711" y2="944"/>
</g>
<g font-size="48">
<text x="5724" y="183.1">25</text><text x="5724" y="377.5">20</text><text x="5724" y="571.5">15</text><text x="5724" y="766.5">10</text><text x="5724" y="961.5">5</text>
</g>
<text transform="translate(5843.5,565.5) rotate(-90)" font-size="48" text-anchor="middle">mean of TN(SON)</text>

<g transform="translate(2675,0)">
<rect x="0" y="1137" width="49" height="78.9" fill="#a50026"/>
<rect x="0" y="1215.8" width="49" height="78.9" fill="#d73027"/>
<rect x="0" y="1294.6" width="49" height="78.9" fill="#f46d43"/>
<rect x="0" y="1373.5" width="49" height="78.9" fill="#fdae61"/>
<rect x="0" y="1452.3" width="49" height="78.9" fill="#fee090"/>
<rect x="0" y="1531.1" width="49" height="78.9" fill="#ffffbf"/>
<rect x="0" y="1609.9" width="49" height="78.9" fill="#e0f3f8"/>
<rect x="0" y="1688.7" width="49" height="78.9" fill="#abd9e9"/>
<rect x="0" y="1767.6" width="49" height="78.9" fill="#74add1"/>
<rect x="0" y="1846.4" width="49" height="78.9" fill="#4575b4"/>
<rect x="0" y="1925.2" width="49" height="78.8" fill="#313695"/>
<polygon points="0,1137 49,1137 24.5,1094.5" fill="#a50026"/>
<polygon points="0,2004 49,2004 24.5,2046" fill="#313695"/>
<path d="M0 1137 L24.5 1094.5 L49 1137 L49 2004 L24.5 2046 L0 2004 Z" fill="none" stroke="#000" stroke-width="2"/>
<g stroke="#000" stroke-width="2.5">
<line x1="49" y1="1176.4" x2="63" y2="1176.4"/><line x1="49" y1="1255.2" x2="63" y2="1255.2"/><line x1="49" y1="1334.1" x2="63" y2="1334.1"/><line x1="49" y1="1412.9" x2="63" y2="1412.9"/><line x1="49" y1="1491.7" x2="63" y2="1491.7"/><line x1="49" y1="1570.5" x2="63" y2="1570.5"/><line x1="49" y1="1649.3" x2="63" y2="1649.3"/><line x1="49" y1="1728.1" x2="63" y2="1728.1"/><line x1="49" y1="1807" x2="63" y2="1807"/><line x1="49" y1="1885.8" x2="63" y2="1885.8"/><line x1="49" y1="1964.6" x2="63" y2="1964.6"/>
</g>
<g font-size="48">
<text x="76" y="1193.9">2.0</text><text x="76" y="1272.7">1.6</text><text x="76" y="1351.6">1.2</text><text x="76" y="1430.4">0.8</text><text x="76" y="1509.2">0.4</text><text x="76" y="1588">0.0</text><text x="76" y="1666.8">−0.4</text><text x="76" y="1745.6">−0.8</text><text x="76" y="1824.5">−1.2</text><text x="76" y="1903.3">−1.6</text><text x="76" y="1982.1">−2.0</text>
</g>
<text transform="translate(253,1570) rotate(-90)" font-size="48" text-anchor="middle">BARPA-R:ERA5 - AGCD</text>
</g>
<g transform="translate(4161,0)">
<rect x="0" y="1137" width="49" height="78.9" fill="#a50026"/>
<rect x="0" y="1215.8" width="49" height="78.9" fill="#d73027"/>
<rect x="0" y="1294.6" width="49" height="78.9" fill="#f46d43"/>
<rect x="0" y="1373.5" width="49" height="78.9" fill="#fdae61"/>
<rect x="0" y="1452.3" width="49" height="78.9" fill="#fee090"/>
<rect x="0" y="1531.1" width="49" height="78.9" fill="#ffffbf"/>
<rect x="0" y="1609.9" width="49" height="78.9" fill="#e0f3f8"/>
<rect x="0" y="1688.7" width="49" height="78.9" fill="#abd9e9"/>
<rect x="0" y="1767.6" width="49" height="78.9" fill="#74add1"/>
<rect x="0" y="1846.4" width="49" height="78.9" fill="#4575b4"/>
<rect x="0" y="1925.2" width="49" height="78.8" fill="#313695"/>
<polygon points="0,1137 49,1137 24.5,1094.5" fill="#a50026"/>
<polygon points="0,2004 49,2004 24.5,2046" fill="#313695"/>
<path d="M0 1137 L24.5 1094.5 L49 1137 L49 2004 L24.5 2046 L0 2004 Z" fill="none" stroke="#000" stroke-width="2"/>
<g stroke="#000" stroke-width="2.5">
<line x1="49" y1="1176.4" x2="63" y2="1176.4"/><line x1="49" y1="1255.2" x2="63" y2="1255.2"/><line x1="49" y1="1334.1" x2="63" y2="1334.1"/><line x1="49" y1="1412.9" x2="63" y2="1412.9"/><line x1="49" y1="1491.7" x2="63" y2="1491.7"/><line x1="49" y1="1570.5" x2="63" y2="1570.5"/><line x1="49" y1="1649.3" x2="63" y2="1649.3"/><line x1="49" y1="1728.1" x2="63" y2="1728.1"/><line x1="49" y1="1807" x2="63" y2="1807"/><line x1="49" y1="1885.8" x2="63" y2="1885.8"/><line x1="49" y1="1964.6" x2="63" y2="1964.6"/>
</g>
<g font-size="48">
<text x="76" y="1193.9">2.0</text><text x="76" y="1272.7">1.6</text><text x="76" y="1351.6">1.2</text><text x="76" y="1430.4">0.8</text><text x="76" y="1509.2">0.4</text><text x="76" y="1588">0.0</text><text x="76" y="1666.8">−0.4</text><text x="76" y="1745.6">−0.8</text><text x="76" y="1824.5">−1.2</text><text x="76" y="1903.3">−1.6</text><text x="76" y="1982.1">−2.0</text>
</g>
<text transform="translate(253,1570) rotate(-90)" font-size="48" text-anchor="middle">CCAM:ERA5 - AGCD</text>
</g>
<g transform="translate(5648,0)">
<rect x="0" y="1137" width="49" height="78.9" fill="#a50026"/>
<rect x="0" y="1215.8" width="49" height="78.9" fill="#d73027"/>
<rect x="0" y="1294.6" width="49" height="78.9" fill="#f46d43"/>
<rect x="0" y="1373.5" width="49" height="78.9" fill="#fdae61"/>
<rect x="0" y="1452.3" width="49" height="78.9" fill="#fee090"/>
<rect x="0" y="1531.1" width="49" height="78.9" fill="#ffffbf"/>
<rect x="0" y="1609.9" width="49" height="78.9" fill="#e0f3f8"/>
<rect x="0" y="1688.7" width="49" height="78.9" fill="#abd9e9"/>
<rect x="0" y="1767.6" width="49" height="78.9" fill="#74add1"/>
<rect x="0" y="1846.4" width="49" height="78.9" fill="#4575b4"/>
<rect x="0" y="1925.2" width="49" height="78.8" fill="#313695"/>
<polygon points="0,1137 49,1137 24.5,1094.5" fill="#a50026"/>
<polygon points="0,2004 49,2004 24.5,2046" fill="#313695"/>
<path d="M0 1137 L24.5 1094.5 L49 1137 L49 2004 L24.5 2046 L0 2004 Z" fill="none" stroke="#000" stroke-width="2"/>
<g stroke="#000" stroke-width="2.5">
<line x1="49" y1="1176.4" x2="63" y2="1176.4"/><line x1="49" y1="1255.2" x2="63" y2="1255.2"/><line x1="49" y1="1334.1" x2="63" y2="1334.1"/><line x1="49" y1="1412.9" x2="63" y2="1412.9"/><line x1="49" y1="1491.7" x2="63" y2="1491.7"/><line x1="49" y1="1570.5" x2="63" y2="1570.5"/><line x1="49" y1="1649.3" x2="63" y2="1649.3"/><line x1="49" y1="1728.1" x2="63" y2="1728.1"/><line x1="49" y1="1807" x2="63" y2="1807"/><line x1="49" y1="1885.8" x2="63" y2="1885.8"/><line x1="49" y1="1964.6" x2="63" y2="1964.6"/>
</g>
<g font-size="48">
<text x="76" y="1193.9">2.0</text><text x="76" y="1272.7">1.6</text><text x="76" y="1351.6">1.2</text><text x="76" y="1430.4">0.8</text><text x="76" y="1509.2">0.4</text><text x="76" y="1588">0.0</text><text x="76" y="1666.8">−0.4</text><text x="76" y="1745.6">−0.8</text><text x="76" y="1824.5">−1.2</text><text x="76" y="1903.3">−1.6</text><text x="76" y="1982.1">−2.0</text>
</g>
<text transform="translate(253,1570) rotate(-90)" font-size="48" text-anchor="middle">ERA5 - AGCD</text>
</g>
</svg>
</body></html>
